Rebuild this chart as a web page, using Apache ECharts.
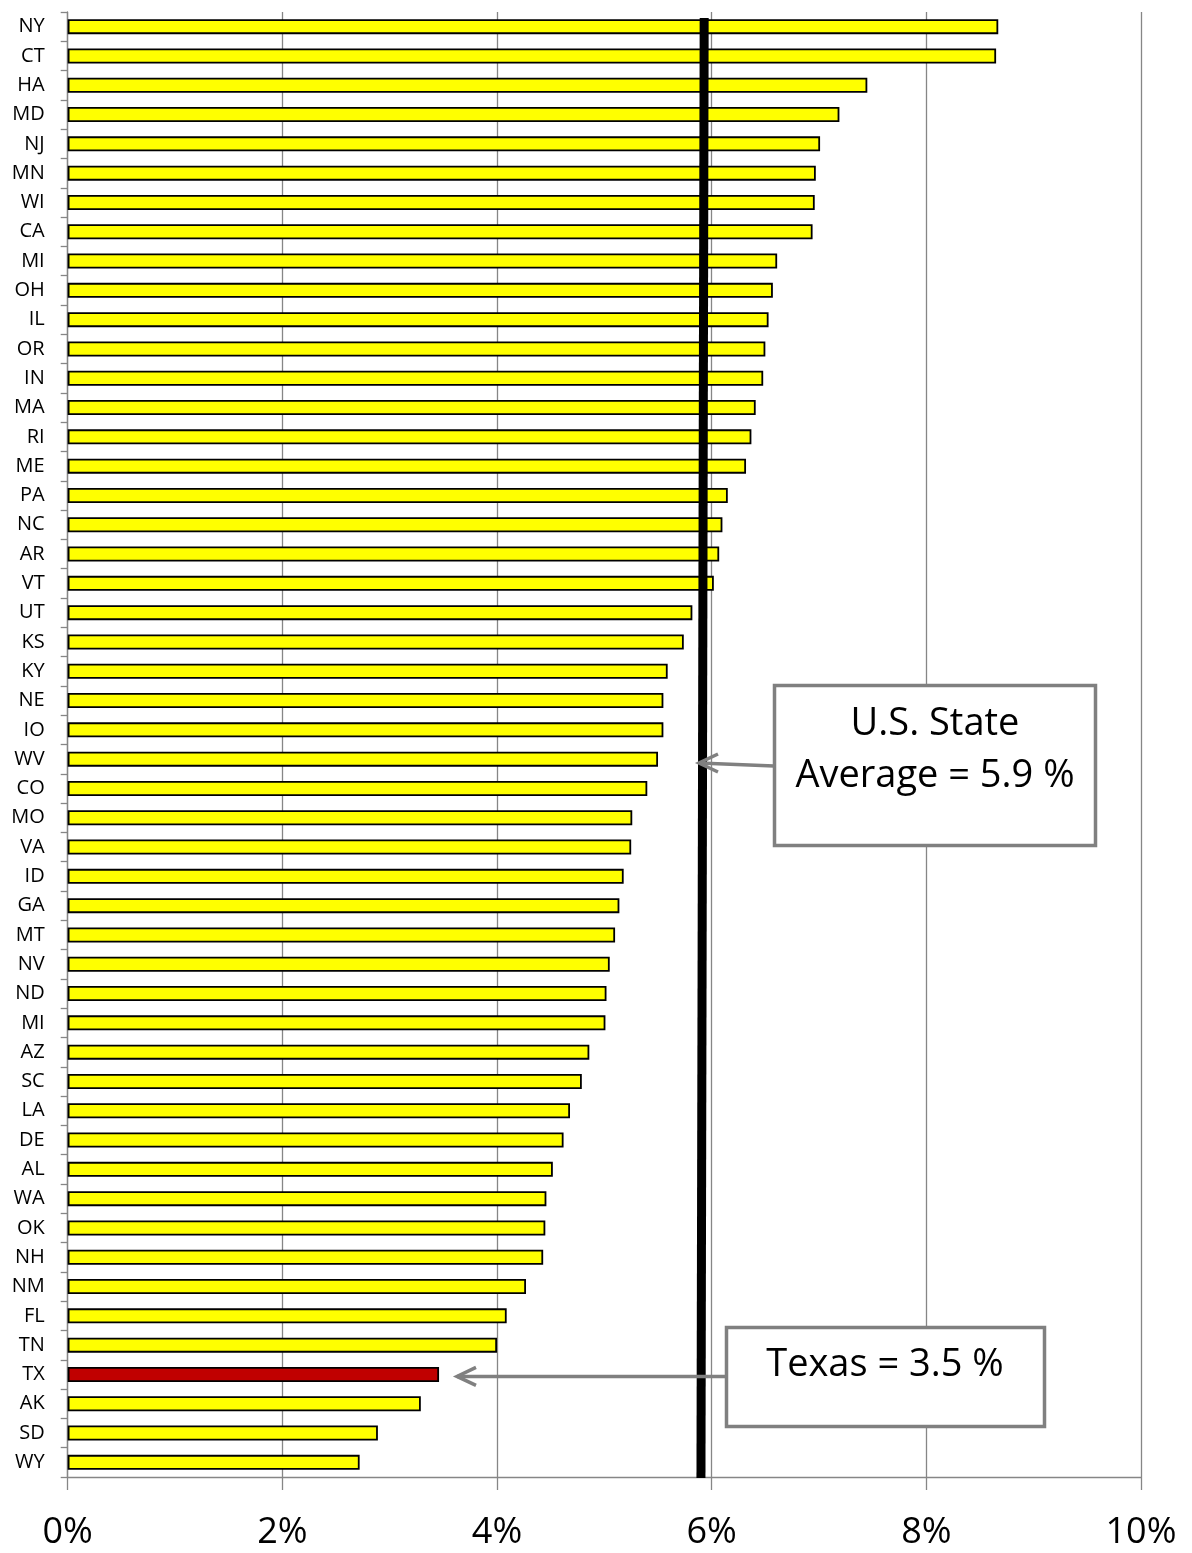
<!DOCTYPE html>
<html>
<head>
<meta charset="utf-8">
<script src="https://cdn.jsdelivr.net/npm/echarts@6/dist/echarts.min.js"></script>
<style>html,body{margin:0;padding:0;background:#fff}#c{width:1192px;height:1553px}</style>
</head>
<body>
<div id="c"></div>
<script>
const states = ["NY","CT","HA","MD","NJ","MN","WI","CA","MI","OH","IL","OR","IN","MA","RI","ME","PA","NC","AR","VT","UT","KS","KY","NE","IO","WV","CO","MO","VA","ID","GA","MT","NV","ND","MI","AZ","SC","LA","DE","AL","WA","OK","NH","NM","FL","TN","TX","AK","SD","WY"];
const rates = [8.67,8.65,7.45,7.19,7.01,6.97,6.96,6.94,6.61,6.57,6.53,6.50,6.48,6.41,6.37,6.32,6.15,6.10,6.07,6.02,5.82,5.74,5.59,5.55,5.55,5.50,5.40,5.26,5.25,5.18,5.14,5.10,5.05,5.02,5.01,4.86,4.79,4.68,4.62,4.52,4.46,4.45,4.43,4.27,4.09,4.00,3.46,3.29,2.89,2.72];
const xTicks = [0,2,4,6,8,10];
const highlight = "TX";
const avgValue = 5.9;
const avgTopValue = 5.93;
const avgText = ["U.S. State", "Average = 5.9 %"];
const texasText = "Texas = 3.5 %";

const FONT = "Open Sans";
const chart = echarts.init(document.getElementById('c'), null, {renderer: 'canvas'});
const barData = rates.map((v, i) => states[i] === highlight
  ? {value: v, itemStyle: {color: '#C00000'}}
  : v);

chart.setOption({
  animation: false,
  backgroundColor: '#ffffff',
  grid: {left: 67.7, right: 51, top: 12, bottom: 76, containLabel: false},
  xAxis: {
    type: 'value', min: xTicks[0], max: xTicks[xTicks.length - 1], interval: 2,
    axisLine: {show: true, lineStyle: {color: '#868686', width: 1.3}},
    axisTick: {show: true, length: 13, lineStyle: {color: '#868686', width: 1.3}},
    axisLabel: {formatter: '{value}%', fontSize: 36, color: '#000', fontFamily: FONT, margin: 38},
    splitLine: {show: true, lineStyle: {color: '#868686', width: 1.3}}
  },
  yAxis: {
    type: 'category', inverse: true, data: states,
    axisLine: {show: true, lineStyle: {color: '#868686', width: 1.3}},
    axisTick: {show: true, length: 7, lineStyle: {color: '#868686', width: 1.3}},
    axisLabel: {fontSize: 20, color: '#000', fontFamily: FONT, margin: 23, interval: 0},
    splitLine: {show: false}
  },
  series: [{
    type: 'bar', data: barData, barWidth: 15,
    itemStyle: {color: '#FFFF00', borderColor: '#000', borderWidth: 1.8}
  }]
});

function px(v, idx) { return chart.convertToPixel({gridIndex: 0}, [v, idx]); }
const lineTop = 18, lineBottom = 1478;
const xt = px(avgTopValue, 0)[0], xb = px(avgValue, 0)[0];
const gray = '#808080';
const txY = px(3.46, states.indexOf(highlight))[1];

function arrow(x1, y1, x2, y2) {
  return [
    {type: 'line', z: 100, shape: {x1: x1, y1: y1, x2: x2, y2: y2}, style: {stroke: gray, lineWidth: 3.5}},
    {type: 'polyline', z: 100, shape: {points: [[x2 + 19, y2 - 9], [x2, y2], [x2 + 19, y2 + 9]]}, style: {stroke: gray, lineWidth: 3.5, fill: null}}
  ];
}

const boxFont = '38px "Open Sans"';
chart.setOption({
  graphic: [
    {type: 'line', z: 90, shape: {x1: xt, y1: lineTop, x2: xb, y2: lineBottom}, style: {stroke: '#000', lineWidth: 9}},
    {type: 'rect', z: 100, shape: {x: 774.5, y: 685.5, width: 321, height: 160}, style: {fill: '#fff', stroke: gray, lineWidth: 3.5}},
    {type: 'text', z: 101, x: 935, y: 724, style: {text: avgText[0], font: boxFont, fill: '#000', align: 'center', verticalAlign: 'middle'}},
    {type: 'text', z: 101, x: 935, y: 776, style: {text: avgText[1], font: boxFont, fill: '#000', align: 'center', verticalAlign: 'middle'}},
    ...arrow(774, 766, 699, 763),
    {type: 'rect', z: 100, shape: {x: 726.5, y: 1327.5, width: 318, height: 99}, style: {fill: '#fff', stroke: gray, lineWidth: 3.5}},
    {type: 'text', z: 101, x: 885, y: 1365, style: {text: texasText, font: boxFont, fill: '#000', align: 'center', verticalAlign: 'middle'}},
    ...arrow(726, txY + 2, 457, txY + 2)
  ]
});
</script>
</body>
</html>
